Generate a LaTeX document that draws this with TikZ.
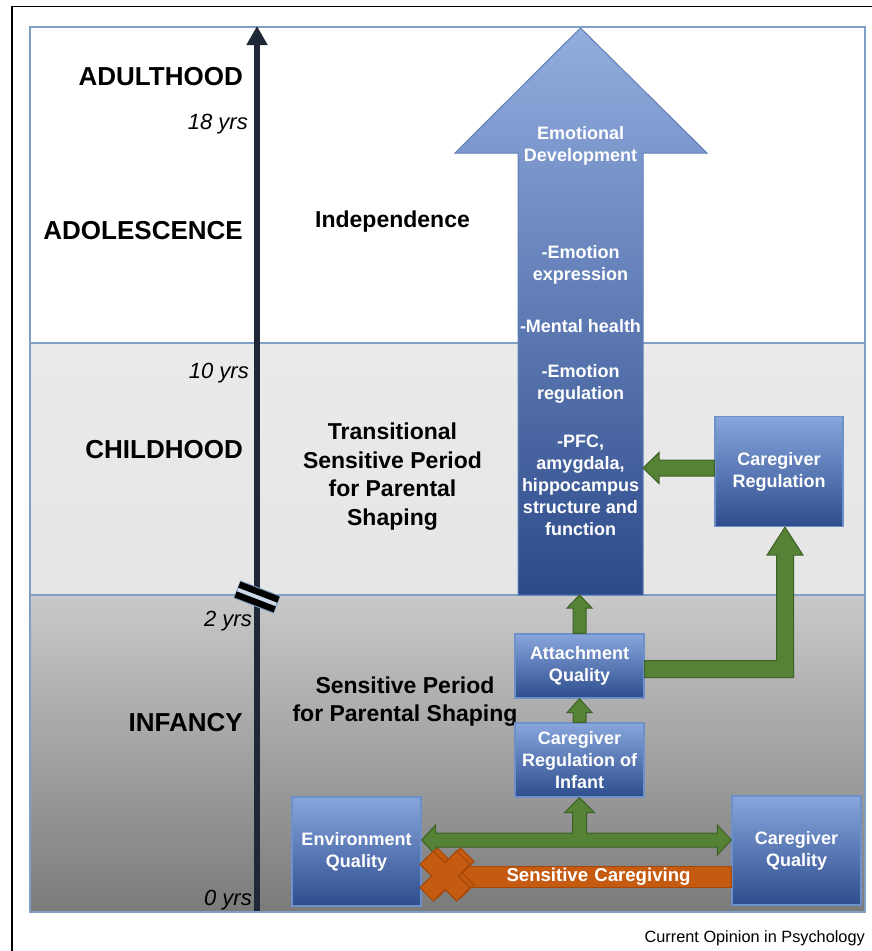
\documentclass[tikz,border=0pt]{standalone}
\usepackage{fontspec}
\setmainfont{Liberation Sans}
\usetikzlibrary{arrows.meta,calc}

\definecolor{paneledge}{HTML}{7F9FC6}
\definecolor{midtop}{HTML}{EAEAEA}
\definecolor{midbot}{HTML}{E6E6E6}
\definecolor{lowtop}{HTML}{C9C9C9}
\definecolor{lowbot}{HTML}{7B7B7B}
\definecolor{axisnavy}{HTML}{1E2836}
\definecolor{bigtop}{HTML}{93ADDF}
\definecolor{bigmid}{HTML}{4F73BF}
\definecolor{bigbot}{HTML}{2C4A8A}
\definecolor{bigedge}{HTML}{5F7FB5}
\definecolor{boxtop}{HTML}{88A5DC}
\definecolor{boxmid}{HTML}{4A74C5}
\definecolor{boxbot}{HTML}{2D4D8E}
\definecolor{boxedge}{HTML}{6E90C8}
\definecolor{arrowgreen}{HTML}{558235}
\definecolor{arrowgreenedge}{HTML}{3D6226}
\definecolor{crossorange}{HTML}{C55A11}
\definecolor{crossedge}{HTML}{A3470A}

% толстая стрелка вверх: откуда, куда, полуширина, полуширина головки, длина головки
\newcommand{\fatup}[5]{%
  \draw [greenblock] let \p1 = (#1), \p2 = (#2) in
    ( \x1-#3, \y1 ) -- ( \x1-#3, \y2-#5 ) -- ( \x1-#4, \y2-#5 ) -- ( \x1, \y2 )
    -- ( \x1+#4, \y2-#5 ) -- ( \x1+#3, \y2-#5 ) -- ( \x1+#3, \y1 ) -- cycle;
}

\begin{document}
\begin{tikzpicture}[x=1pt, y=1pt,
    phase/.style={anchor=east, inner sep=0pt, font=\bfseries\fontsize{26}{30}\selectfont},
    age/.style={anchor=base east, inner sep=0pt, font=\itshape\fontsize{22}{26}\selectfont},
    period/.style={align=center, inner sep=0pt, font=\bfseries\fontsize{23}{28.5}\selectfont},
    box/.style={draw=boxedge, line width=1.2pt, top color=boxtop, middle color=boxmid, bottom color=boxbot,
                text=white, align=center, inner sep=0pt, font=\bfseries\fontsize{18}{22}\selectfont},
    emotext/.style={text=white, align=center, inner sep=0pt, font=\bfseries\fontsize{18}{22}\selectfont},
    greenblock/.style={fill=arrowgreen, draw=arrowgreenedge, line width=1pt},
    orangebar/.style={fill=crossorange, draw=crossedge, line width=1pt, text=white, inner sep=0pt,
                      font=\bfseries\fontsize{18.6}{22}\selectfont},
    crossbar/.style={fill=crossorange, draw=crossedge, line width=1pt}
  ]
    \useasboundingbox ( 0, 0 ) rectangle ( 872, -951 );

    % рамка
    \draw [line width=1.2pt] ( 12, -951 ) -- ( 12, -6.5 ) -- ( 872, -6.5 );

    % полосы
    \fill [white] ( 30, -27 ) rectangle ( 865, -343 );
    \shade [top color=midtop, bottom color=midbot] ( 30, -343 ) rectangle ( 865, -595 );
    \shade [top color=lowtop, bottom color=lowbot] ( 30, -595 ) rectangle ( 865, -912 );
    \draw [paneledge, line width=1.5pt] ( 30, -27 ) rectangle ( 865, -912 );
    \draw [paneledge, line width=1.5pt] ( 30, -343 ) -- ( 865, -343 );
    \draw [paneledge, line width=1.5pt] ( 30, -595 ) -- ( 865, -595 );

    % ось
    \coordinate (axbot) at ( 257, -911 );
    \coordinate (axtop) at ( 257, -26 );
    \draw [axisnavy, line width=6pt, -{Triangle[width=20pt, length=19pt]}] (axbot) -- (axtop);

    % разрыв оси
    \begin{scope} [shift={( 257, -597 )}, rotate=-21]
        \filldraw [fill=paneledge!40, draw=paneledge, line width=1pt] ( -21, -9 ) rectangle ( 21, 9 );
        \fill [black] ( -21, 2 ) rectangle ( 21, 8.5 );
        \fill [black] ( -21, -8.5 ) rectangle ( 21, -2 );
    \end{scope}

    % периоды и годы
    \node [phase] (adult) at ( 243, -77 ) {ADULTHOOD};
    \node [age] (y18) at ( 248, -129 ) {18 yrs};
    \node [phase] (adol) at ( 243, -231 ) {ADOLESCENCE};
    \node [age] (y10) at ( 249, -378 ) {10 yrs};
    \node [phase] (child) at ( 243, -450 ) {CHILDHOOD};
    \node [age] (y2) at ( 252, -626 ) {2 yrs};
    \node [phase] (inf) at ( 243, -723 ) {INFANCY};
    \node [age] (y0) at ( 252, -905 ) {0 yrs};

    \node [period] (indep) at ( 392.5, -222 ) {Independence};
    \node [period] (trans) at ( 392.5, -476.5 ) {Transitional\\Sensitive Period\\for Parental\\Shaping};
    \node [period] (sens) at ( 405, -701.5 ) {Sensitive Period\\for Parental Shaping};

    % большая стрелка
    \node [inner sep=0pt, outer sep=0pt, minimum width=125pt, minimum height=442pt] (emo) at ( 580.5, -374 ) {};
    \draw [bigedge, line width=1pt, top color=bigtop, middle color=bigmid, bottom color=bigbot]
        (emo.south west) -- (emo.north west) -- ( $(emo.north west)+(-63,0)$ ) -- ( $(emo.north)+(0,125)$ )
        -- ( $(emo.north east)+(64,0)$ ) -- (emo.north east) -- (emo.south east) -- cycle;

    \node [emotext] (emotitle) at ( 580.5, -146 ) {Emotional\\Development};
    \node [emotext] (emoexpr) at ( 580.5, -265 ) {-Emotion\\expression};
    \node [emotext] (emomh) at ( 580.5, -326 ) {-Mental health};
    \node [emotext] (emoreg) at ( 580.5, -384 ) {-Emotion\\regulation};
    \node [emotext] (emobrain) at ( 580.5, -485.5 ) {-PFC,\\amygdala,\\hippocampus\\structure and\\function};

    % блоки
    \node [box, minimum width=128pt, minimum height=110pt] (cgr) at ( 779, -471.5 ) {Caregiver\\Regulation};
    \node [box, minimum width=129pt, minimum height=64pt] (att) at ( 579.5, -666 ) {Attachment\\Quality};
    \node [box, minimum width=129pt, minimum height=74pt] (reginf) at ( 579.5, -760 ) {Caregiver\\Regulation of\\Infant};
    \node [box, minimum width=129pt, minimum height=109pt] (env) at ( 356.5, -851.5 ) {Environment\\Quality};
    \node [box, minimum width=129pt, minimum height=109pt] (cgq) at ( 796.5, -850.5 ) {Caregiver\\Quality};

    % зелёные стрелки
    \fatup{att.north}{emo.south}{6.5}{12.5}{13}
    \fatup{reginf.north}{att.south}{6.5}{12.5}{14}

    \coordinate (hmid) at ( 577, -840 );
    \draw [greenblock] let \p1 = (env.east), \p2 = (cgq.west), \p3 = (reginf.south), \p4 = (hmid) in
        ( \x1, \y4 ) -- ( \x1+14, \y4+15 ) -- ( \x1+14, \y4+7 ) -- ( \x3-7, \y4+7 ) -- ( \x3-7, \y3-15 )
        -- ( \x3-15, \y3-15 ) -- ( \x3, \y3 ) -- ( \x3+15, \y3-15 ) -- ( \x3+7, \y3-15 ) -- ( \x3+7, \y4+7 )
        -- ( \x2-14, \y4+7 ) -- ( \x2-14, \y4+15 ) -- ( \x2, \y4 ) -- ( \x2-14, \y4-15 ) -- ( \x2-14, \y4-7 )
        -- ( \x1+14, \y4-7 ) -- ( \x1+14, \y4-15 ) -- cycle;

    \coordinate (bend) at ( 785, -669 );
    \draw [greenblock] let \p1 = (att.east), \p2 = (cgr.south), \p3 = (bend) in
        ( \x1, \y3+8.5 ) -- ( \x3-8.5, \y3+8.5 ) -- ( \x3-8.5, \y2-28 ) -- ( \x3-18, \y2-28 ) -- ( \x3, \y2 )
        -- ( \x3+18, \y2-28 ) -- ( \x3+8.5, \y2-28 ) -- ( \x3+8.5, \y3-8.5 ) -- ( \x1, \y3-8.5 ) -- cycle;

    \draw [greenblock] let \p1 = (cgr.west), \p2 = (emo.east) in
        ( \x1, \y1+11.5 ) -- ( \x2+16, \y1+11.5 ) -- ( \x2+16, \y1+19 ) -- ( \x2, \y1+3.5 )
        -- ( \x2+16, \y1-12 ) -- ( \x2+16, \y1-4.5 ) -- ( \x1, \y1-4.5 ) -- cycle;

    % оранжевая полоса и крест
    \node [orangebar, minimum width=277pt, minimum height=21pt, text width=269pt, align=right] (care) at ( 593, -876.5 ) {Sensitive Caregiving\hspace*{37pt}};
    \foreach \dx/\dy in {4/3, 0/0} {
        \draw [crossbar, shift={( 445+\dx, -876+\dy )}, rotate=45]
            ( -26, -9.5 ) -- ( -9.5, -9.5 ) -- ( -9.5, -26 ) -- ( 9.5, -26 ) -- ( 9.5, -9.5 ) -- ( 26, -9.5 )
            -- ( 26, 9.5 ) -- ( 9.5, 9.5 ) -- ( 9.5, 26 ) -- ( -9.5, 26 ) -- ( -9.5, 9.5 ) -- ( -26, 9.5 ) -- cycle;
    }

    % подпись
    \node [anchor=base east, inner sep=0pt, font=\fontsize{16.3}{19}\selectfont] (credit) at ( 865, -942.5 ) {Current Opinion in Psychology};
\end{tikzpicture}
\end{document}
